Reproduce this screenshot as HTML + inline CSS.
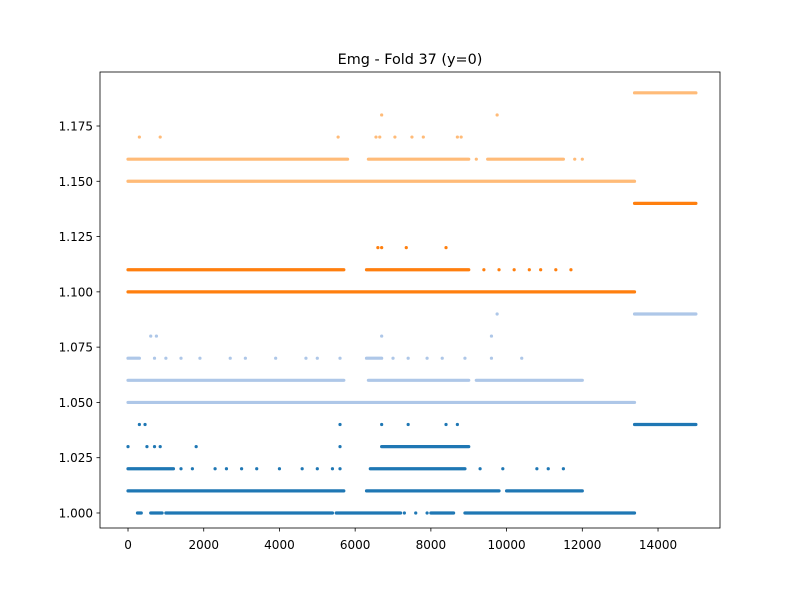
<!DOCTYPE html>
<html><head><meta charset="utf-8"><style>
body{margin:0;background:#fff;font-family:"Liberation Sans","DejaVu Sans",sans-serif}
svg text{font-family:"DejaVu Sans","Liberation Sans",sans-serif;font-size:12px;fill:#000}
</style></head><body>
<svg id="chart" width="800" height="600" xmlns="http://www.w3.org/2000/svg">
<rect width="800" height="600" fill="#fff"/>
<text x="410" y="64" text-anchor="middle" style="font-size:14.4px">Emg - Fold 37 (y=0)</text>
<g id="marks"></g>
<rect x="100" y="72" width="620" height="456" fill="none" stroke="#000" stroke-width="0.8"/>
<g id="axes"></g>
</svg>
<script>
const xTicks=[0,2000,4000,6000,8000,10000,12000,14000];
const yTicks=[1.000,1.025,1.050,1.075,1.100,1.125,1.150,1.175];
const seriesNames=["class-0","class-1","class-2","class-3"];
const seriesColors=["#1f77b4","#aec7e8","#ff7f0e","#ffbb78"];
// dense runs: [xStart, xEnd, y]
const runs0=[[250,350,1.00],[600,900,1.00],[1000,5400,1.00],[5500,7200,1.00],[8000,8600,1.00],[8900,13380,1.00],[0,5700,1.01],[6300,9800,1.01],[10000,12000,1.01],[0,1200,1.02],[6400,8900,1.02],[6700,9000,1.03],[13380,15000,1.04]];
const pts0=[[7300,1.00],[7600,1.00],[7900,1.00],[1400,1.02],[1700,1.02],[2300,1.02],[2600,1.02],[3000,1.02],[3400,1.02],[4000,1.02],[4600,1.02],[5000,1.02],[5400,1.02],[5600,1.02],[9300,1.02],[9900,1.02],[10800,1.02],[11100,1.02],[11500,1.02],[0,1.03],[500,1.03],[700,1.03],[850,1.03],[1800,1.03],[5600,1.03],[300,1.04],[450,1.04],[5600,1.04],[6700,1.04],[7400,1.04],[8400,1.04],[8700,1.04]];
const runs1=[[0,13380,1.05],[0,5700,1.06],[6350,9000,1.06],[9200,12000,1.06],[0,300,1.07],[6300,6700,1.07],[13380,15000,1.09]];
const pts1=[[700,1.07],[1000,1.07],[1400,1.07],[1900,1.07],[2700,1.07],[3100,1.07],[3900,1.07],[4700,1.07],[5000,1.07],[5600,1.07],[7000,1.07],[7400,1.07],[7900,1.07],[8300,1.07],[8900,1.07],[9600,1.07],[10400,1.07],[600,1.08],[750,1.08],[6700,1.08],[9600,1.08],[9750,1.09]];
const runs2=[[0,13380,1.10],[0,5700,1.11],[6300,9000,1.11],[13380,15000,1.14]];
const pts2=[[9400,1.11],[9800,1.11],[10200,1.11],[10600,1.11],[10900,1.11],[11300,1.11],[11700,1.11],[6600,1.12],[6700,1.12],[7350,1.12],[8400,1.12]];
const runs3=[[0,13380,1.15],[0,5800,1.16],[6350,9000,1.16],[9500,11500,1.16],[13380,15000,1.19]];
const pts3=[[9200,1.16],[11800,1.16],[12000,1.16],[300,1.17],[850,1.17],[5550,1.17],[6550,1.17],[6650,1.17],[7050,1.17],[7500,1.17],[7800,1.17],[8700,1.17],[8800,1.17],[6700,1.18],[9750,1.18]];
const allRuns=[runs0,runs1,runs2,runs3];
const allPts=[pts0,pts1,pts2,pts3];
const X0=-740,X1=15637,Y0=0.99321,Y1=1.19942;
function xs(v){return 100+(v-X0)/(X1-X0)*620;}
function ys(v){return 528-(v-Y0)/(Y1-Y0)*456;}
const NS="http://www.w3.org/2000/svg";
const marks=document.getElementById('marks');
for(let s=0;s<4;s++){
  const g=document.createElementNS(NS,'g');
  
  
  g.setAttribute('fill',seriesColors[s]);
  for(const r of allRuns[s]){
    const e=document.createElementNS(NS,'rect');
    
    
    e.setAttribute('x',xs(r[0])-1.6);e.setAttribute('y',ys(r[2])-1.6);
    e.setAttribute('width',xs(r[1])-xs(r[0])+3.2);e.setAttribute('height',3.2);
    e.setAttribute('rx',1.6);
    g.appendChild(e);
  }
  for(const p of allPts[s]){
    const c=document.createElementNS(NS,'circle');
    
    
    c.setAttribute('cx',xs(p[0]));c.setAttribute('cy',ys(p[1]));c.setAttribute('r',1.6);
    g.appendChild(c);
  }
  marks.appendChild(g);
}
const axes=document.getElementById('axes');
for(const t of xTicks){
  const l=document.createElementNS(NS,'line');
  
  
  l.setAttribute('x1',xs(t));l.setAttribute('x2',xs(t));l.setAttribute('y1',528);l.setAttribute('y2',531.5);l.setAttribute('stroke','#000');l.setAttribute('stroke-width','0.8');
  axes.appendChild(l);
  const tx=document.createElementNS(NS,'text');
  
  
  tx.setAttribute('x',xs(t));tx.setAttribute('y',549);tx.setAttribute('text-anchor','middle');tx.textContent=t;
  axes.appendChild(tx);
}
for(const t of yTicks){
  const l=document.createElementNS(NS,'line');
  
  
  l.setAttribute('x1',96.5);l.setAttribute('x2',100);l.setAttribute('y1',ys(t));l.setAttribute('y2',ys(t));l.setAttribute('stroke','#000');l.setAttribute('stroke-width','0.8');
  axes.appendChild(l);
  const tx=document.createElementNS(NS,'text');
  
  
  tx.setAttribute('x',93);tx.setAttribute('y',ys(t)+4.5);tx.setAttribute('text-anchor','end');tx.textContent=t.toFixed(3);
  axes.appendChild(tx);
}
</script>
</body></html>
